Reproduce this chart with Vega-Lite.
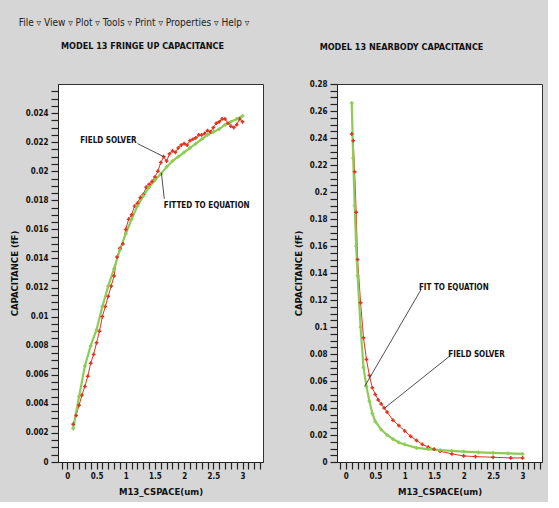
{
  "$schema": "https://vega.github.io/schema/vega-lite/v6.json",
  "background": "#d6d6d6",
  "padding": {"left": 8, "top": 17, "right": 5, "bottom": 6},
  "title": {
    "text": "File ▿       View ▿       Plot ▿       Tools ▿       Print ▿       Properties ▿       Help ▿",
    "anchor": "start",
    "fontSize": 10,
    "fontWeight": "normal",
    "font": "DejaVu Sans Condensed",
    "color": "#222",
    "offset": 14,
    "dx": 10
  },
  "datasets": {
    "fringe": [
      {"x": 0.1, "cap": 0.0026, "method": "Field solver"},
      {"x": 0.15, "cap": 0.0032, "method": "Field solver"},
      {"x": 0.2, "cap": 0.0039, "method": "Field solver"},
      {"x": 0.25, "cap": 0.0046, "method": "Field solver"},
      {"x": 0.3, "cap": 0.0052, "method": "Field solver"},
      {"x": 0.35, "cap": 0.0059, "method": "Field solver"},
      {"x": 0.4, "cap": 0.0068, "method": "Field solver"},
      {"x": 0.45, "cap": 0.0074, "method": "Field solver"},
      {"x": 0.5, "cap": 0.0082, "method": "Field solver"},
      {"x": 0.55, "cap": 0.009, "method": "Field solver"},
      {"x": 0.6, "cap": 0.01, "method": "Field solver"},
      {"x": 0.65, "cap": 0.0107, "method": "Field solver"},
      {"x": 0.7, "cap": 0.0114, "method": "Field solver"},
      {"x": 0.75, "cap": 0.0121, "method": "Field solver"},
      {"x": 0.8, "cap": 0.0128, "method": "Field solver"},
      {"x": 0.85, "cap": 0.0141, "method": "Field solver"},
      {"x": 0.9, "cap": 0.0147, "method": "Field solver"},
      {"x": 0.95, "cap": 0.015, "method": "Field solver"},
      {"x": 1.0, "cap": 0.016, "method": "Field solver"},
      {"x": 1.05, "cap": 0.0167, "method": "Field solver"},
      {"x": 1.1, "cap": 0.017, "method": "Field solver"},
      {"x": 1.15, "cap": 0.0176, "method": "Field solver"},
      {"x": 1.2, "cap": 0.0178, "method": "Field solver"},
      {"x": 1.25, "cap": 0.0182, "method": "Field solver"},
      {"x": 1.3, "cap": 0.0184, "method": "Field solver"},
      {"x": 1.35, "cap": 0.0189, "method": "Field solver"},
      {"x": 1.4, "cap": 0.0191, "method": "Field solver"},
      {"x": 1.45, "cap": 0.0193, "method": "Field solver"},
      {"x": 1.5, "cap": 0.0196, "method": "Field solver"},
      {"x": 1.55, "cap": 0.02, "method": "Field solver"},
      {"x": 1.6, "cap": 0.0206, "method": "Field solver"},
      {"x": 1.65, "cap": 0.021, "method": "Field solver"},
      {"x": 1.7, "cap": 0.0207, "method": "Field solver"},
      {"x": 1.75, "cap": 0.0212, "method": "Field solver"},
      {"x": 1.8, "cap": 0.0214, "method": "Field solver"},
      {"x": 1.85, "cap": 0.0213, "method": "Field solver"},
      {"x": 1.9, "cap": 0.0216, "method": "Field solver"},
      {"x": 1.95, "cap": 0.0218, "method": "Field solver"},
      {"x": 2.0, "cap": 0.0219, "method": "Field solver"},
      {"x": 2.05, "cap": 0.0218, "method": "Field solver"},
      {"x": 2.1, "cap": 0.0221, "method": "Field solver"},
      {"x": 2.15, "cap": 0.0222, "method": "Field solver"},
      {"x": 2.2, "cap": 0.0223, "method": "Field solver"},
      {"x": 2.25, "cap": 0.0225, "method": "Field solver"},
      {"x": 2.3, "cap": 0.0225, "method": "Field solver"},
      {"x": 2.35, "cap": 0.0226, "method": "Field solver"},
      {"x": 2.4, "cap": 0.0228, "method": "Field solver"},
      {"x": 2.45, "cap": 0.0227, "method": "Field solver"},
      {"x": 2.5, "cap": 0.023, "method": "Field solver"},
      {"x": 2.55, "cap": 0.0233, "method": "Field solver"},
      {"x": 2.6, "cap": 0.0234, "method": "Field solver"},
      {"x": 2.65, "cap": 0.0236, "method": "Field solver"},
      {"x": 2.7, "cap": 0.0236, "method": "Field solver"},
      {"x": 2.75, "cap": 0.0233, "method": "Field solver"},
      {"x": 2.8, "cap": 0.0231, "method": "Field solver"},
      {"x": 2.85, "cap": 0.023, "method": "Field solver"},
      {"x": 2.9, "cap": 0.0232, "method": "Field solver"},
      {"x": 2.95, "cap": 0.0236, "method": "Field solver"},
      {"x": 3.0, "cap": 0.0234, "method": "Field solver"},
      {"x": 0.1, "cap": 0.0023, "method": "Fitted equation"},
      {"x": 0.2, "cap": 0.0045, "method": "Fitted equation"},
      {"x": 0.3, "cap": 0.0066, "method": "Fitted equation"},
      {"x": 0.4, "cap": 0.008, "method": "Fitted equation"},
      {"x": 0.5, "cap": 0.0091, "method": "Fitted equation"},
      {"x": 0.6, "cap": 0.0107, "method": "Fitted equation"},
      {"x": 0.7, "cap": 0.0121, "method": "Fitted equation"},
      {"x": 0.8, "cap": 0.0133, "method": "Fitted equation"},
      {"x": 0.9, "cap": 0.0146, "method": "Fitted equation"},
      {"x": 1.0, "cap": 0.0157, "method": "Fitted equation"},
      {"x": 1.1, "cap": 0.0167, "method": "Fitted equation"},
      {"x": 1.2, "cap": 0.0176, "method": "Fitted equation"},
      {"x": 1.3, "cap": 0.0183, "method": "Fitted equation"},
      {"x": 1.4, "cap": 0.0189, "method": "Fitted equation"},
      {"x": 1.5, "cap": 0.0194, "method": "Fitted equation"},
      {"x": 1.6, "cap": 0.0198, "method": "Fitted equation"},
      {"x": 1.7, "cap": 0.0203, "method": "Fitted equation"},
      {"x": 1.8, "cap": 0.0207, "method": "Fitted equation"},
      {"x": 1.9, "cap": 0.021, "method": "Fitted equation"},
      {"x": 2.0, "cap": 0.0213, "method": "Fitted equation"},
      {"x": 2.1, "cap": 0.0216, "method": "Fitted equation"},
      {"x": 2.2, "cap": 0.0219, "method": "Fitted equation"},
      {"x": 2.3, "cap": 0.0222, "method": "Fitted equation"},
      {"x": 2.4, "cap": 0.0225, "method": "Fitted equation"},
      {"x": 2.5, "cap": 0.0227, "method": "Fitted equation"},
      {"x": 2.6, "cap": 0.0229, "method": "Fitted equation"},
      {"x": 2.7, "cap": 0.0232, "method": "Fitted equation"},
      {"x": 2.8, "cap": 0.0234, "method": "Fitted equation"},
      {"x": 2.9, "cap": 0.0236, "method": "Fitted equation"},
      {"x": 3.0, "cap": 0.0238, "method": "Fitted equation"}
    ],
    "nearbody": [
      {"x": 0.1, "cap": 0.243, "method": "Field solver"},
      {"x": 0.125, "cap": 0.238, "method": "Field solver"},
      {"x": 0.15, "cap": 0.215, "method": "Field solver"},
      {"x": 0.175, "cap": 0.185, "method": "Field solver"},
      {"x": 0.2, "cap": 0.15, "method": "Field solver"},
      {"x": 0.25, "cap": 0.118, "method": "Field solver"},
      {"x": 0.3, "cap": 0.092, "method": "Field solver"},
      {"x": 0.35, "cap": 0.076, "method": "Field solver"},
      {"x": 0.4, "cap": 0.064, "method": "Field solver"},
      {"x": 0.45, "cap": 0.055, "method": "Field solver"},
      {"x": 0.5, "cap": 0.05, "method": "Field solver"},
      {"x": 0.55, "cap": 0.046, "method": "Field solver"},
      {"x": 0.6, "cap": 0.043, "method": "Field solver"},
      {"x": 0.65, "cap": 0.04, "method": "Field solver"},
      {"x": 0.7, "cap": 0.037, "method": "Field solver"},
      {"x": 0.8, "cap": 0.031, "method": "Field solver"},
      {"x": 0.9, "cap": 0.027, "method": "Field solver"},
      {"x": 1.0, "cap": 0.023, "method": "Field solver"},
      {"x": 1.1, "cap": 0.019, "method": "Field solver"},
      {"x": 1.2, "cap": 0.016, "method": "Field solver"},
      {"x": 1.3, "cap": 0.013, "method": "Field solver"},
      {"x": 1.4, "cap": 0.011, "method": "Field solver"},
      {"x": 1.5, "cap": 0.0095, "method": "Field solver"},
      {"x": 1.6, "cap": 0.008, "method": "Field solver"},
      {"x": 1.8, "cap": 0.006, "method": "Field solver"},
      {"x": 2.0, "cap": 0.0045, "method": "Field solver"},
      {"x": 2.2, "cap": 0.004, "method": "Field solver"},
      {"x": 2.5, "cap": 0.0035, "method": "Field solver"},
      {"x": 2.8, "cap": 0.003, "method": "Field solver"},
      {"x": 3.0, "cap": 0.003, "method": "Field solver"},
      {"x": 0.1, "cap": 0.266, "method": "Fitted equation"},
      {"x": 0.125, "cap": 0.225, "method": "Fitted equation"},
      {"x": 0.15, "cap": 0.19, "method": "Fitted equation"},
      {"x": 0.175, "cap": 0.16, "method": "Fitted equation"},
      {"x": 0.2, "cap": 0.138, "method": "Fitted equation"},
      {"x": 0.25, "cap": 0.1, "method": "Fitted equation"},
      {"x": 0.3, "cap": 0.07, "method": "Fitted equation"},
      {"x": 0.35, "cap": 0.056, "method": "Fitted equation"},
      {"x": 0.4, "cap": 0.045, "method": "Fitted equation"},
      {"x": 0.45, "cap": 0.036, "method": "Fitted equation"},
      {"x": 0.5, "cap": 0.03, "method": "Fitted equation"},
      {"x": 0.6, "cap": 0.024, "method": "Fitted equation"},
      {"x": 0.7, "cap": 0.02, "method": "Fitted equation"},
      {"x": 0.8, "cap": 0.017, "method": "Fitted equation"},
      {"x": 0.9, "cap": 0.0145, "method": "Fitted equation"},
      {"x": 1.0, "cap": 0.013, "method": "Fitted equation"},
      {"x": 1.2, "cap": 0.0105, "method": "Fitted equation"},
      {"x": 1.4, "cap": 0.0095, "method": "Fitted equation"},
      {"x": 1.6, "cap": 0.0088, "method": "Fitted equation"},
      {"x": 1.8, "cap": 0.0082, "method": "Fitted equation"},
      {"x": 2.0, "cap": 0.0077, "method": "Fitted equation"},
      {"x": 2.25, "cap": 0.0072, "method": "Fitted equation"},
      {"x": 2.5, "cap": 0.0068, "method": "Fitted equation"},
      {"x": 2.75, "cap": 0.0064, "method": "Fitted equation"},
      {"x": 3.0, "cap": 0.006, "method": "Fitted equation"}
    ],
    "fringeNotes": [
      {"label": "FIELD SOLVER", "tx": 0.22, "ty": 0.0221, "x1": 1.2, "y1": 0.0219, "x2": 1.65, "y2": 0.021},
      {"label": "FITTED TO EQUATION", "tx": 1.65, "ty": 0.0176, "x1": 1.61, "y1": 0.0199, "x2": 1.66, "y2": 0.0181}
    ],
    "nearNotes": [
      {"label": "FIT TO EQUATION", "tx": 1.24, "ty": 0.129, "x1": 1.28, "y1": 0.128, "x2": 0.32, "y2": 0.056},
      {"label": "FIELD SOLVER", "tx": 1.74, "ty": 0.079, "x1": 1.75, "y1": 0.078, "x2": 0.66, "y2": 0.04}
    ]
  },
  "spacing": 28,
  "hconcat": [
    {
      "title": {"text": "MODEL 13 FRINGE UP CAPACITANCE", "dx": -18, "offset": 33},
      "width": 205,
      "height": 378,
      "layer": [
        {
          "data": {"name": "fringe"},
          "mark": {"type": "line", "point": {"shape": "cross", "size": 14, "filled": true}},
          "encoding": {
            "x": {"field": "x", "type": "quantitative", "scale": {"domain": [-0.16, 3.35], "nice": false, "zero": false},
                  "axis": {"values": [-0.1, 0, 0.1, 0.2, 0.3, 0.4, 0.5, 0.6, 0.7, 0.8, 0.9, 1, 1.1, 1.2, 1.3, 1.4, 1.5, 1.6, 1.7, 1.8, 1.9, 2, 2.1, 2.2, 2.3, 2.4, 2.5, 2.6, 2.7, 2.8, 2.9, 3, 3.1, 3.2, 3.3],
                           "tickCount": 200,
                           "format": "~g",
                           "labelExpr": "abs(datum.value*2 - round(datum.value*2)) < 0.001 && datum.value >= 0 ? datum.label : ''",
                           "tickSize": 7,
                           "encode": {"ticks": {"update": {"y2": {"signal": "abs(datum.value*2 - round(datum.value*2)) < 0.001 ? 7 : 4"}}}},
                           "title": "M13_CSPACE(um)"}},
            "y": {"field": "cap", "type": "quantitative", "scale": {"domain": [0, 0.026], "nice": false},
                  "axis": {"values": [0, 0.0005, 0.001, 0.0015, 0.002, 0.0025, 0.003, 0.0035, 0.004, 0.0045, 0.005, 0.0055, 0.006, 0.0065, 0.007, 0.0075, 0.008, 0.0085, 0.009, 0.0095, 0.01, 0.0105, 0.011, 0.0115, 0.012, 0.0125, 0.013, 0.0135, 0.014, 0.0145, 0.015, 0.0155, 0.016, 0.0165, 0.017, 0.0175, 0.018, 0.0185, 0.019, 0.0195, 0.02, 0.0205, 0.021, 0.0215, 0.022, 0.0225, 0.023, 0.0235, 0.024, 0.0245, 0.025, 0.0255],
                           "tickCount": 200,
                           "format": "~g",
                           "labelExpr": "abs(datum.value*500 - round(datum.value*500)) < 0.001 ? datum.label : ''",
                           "tickSize": 7,
                           "encode": {"ticks": {"update": {"x2": {"signal": "abs(datum.value*500 - round(datum.value*500)) < 0.001 ? -7 : -4"}}}},
                           "title": "CAPACITANCE (fF)"}},
            "color": {"field": "method", "type": "nominal", "legend": null,
                      "scale": {"domain": ["Field solver", "Fitted equation"], "range": ["#e0321e", "#8ccc55"]}},
            "strokeWidth": {"field": "method", "type": "nominal", "legend": null,
                      "scale": {"domain": ["Field solver", "Fitted equation"], "range": [1, 2.2]}}
          }
        },
        {
          "data": {"name": "fringeNotes"},
          "mark": {"type": "rule", "color": "#222", "strokeWidth": 0.8},
          "encoding": {
            "x": {"field": "x1", "type": "quantitative"},
            "y": {"field": "y1", "type": "quantitative"},
            "x2": {"field": "x2"},
            "y2": {"field": "y2"}
          }
        },
        {
          "data": {"name": "fringeNotes"},
          "mark": {"type": "text", "align": "left", "baseline": "middle", "fontWeight": "bold", "fontSize": 8, "font": "DejaVu Sans Condensed", "color": "#111"},
          "encoding": {
            "x": {"field": "tx", "type": "quantitative"},
            "y": {"field": "ty", "type": "quantitative"},
            "text": {"field": "label"}
          }
        }
      ]
    },
    {
      "title": {"text": "MODEL 13 NEARBODY CAPACITANCE", "dx": -38, "offset": 28},
      "width": 205,
      "height": 378,
      "layer": [
        {
          "data": {"name": "nearbody"},
          "mark": {"type": "line", "point": {"shape": "cross", "size": 14, "filled": true}},
          "encoding": {
            "x": {"field": "x", "type": "quantitative", "scale": {"domain": [-0.15, 3.33], "nice": false, "zero": false},
                  "axis": {"values": [-0.1, 0, 0.1, 0.2, 0.3, 0.4, 0.5, 0.6, 0.7, 0.8, 0.9, 1, 1.1, 1.2, 1.3, 1.4, 1.5, 1.6, 1.7, 1.8, 1.9, 2, 2.1, 2.2, 2.3, 2.4, 2.5, 2.6, 2.7, 2.8, 2.9, 3, 3.1, 3.2, 3.3],
                           "tickCount": 200,
                           "format": "~g",
                           "labelExpr": "abs(datum.value*2 - round(datum.value*2)) < 0.001 && datum.value >= 0 ? datum.label : ''",
                           "tickSize": 7,
                           "encode": {"ticks": {"update": {"y2": {"signal": "abs(datum.value*2 - round(datum.value*2)) < 0.001 ? 7 : 4"}}}},
                           "title": "M13_CSPACE(um)"}},
            "y": {"field": "cap", "type": "quantitative", "scale": {"domain": [0, 0.28], "nice": false},
                  "axis": {"values": [0, 0.005, 0.01, 0.015, 0.02, 0.025, 0.03, 0.035, 0.04, 0.045, 0.05, 0.055, 0.06, 0.065, 0.07, 0.075, 0.08, 0.085, 0.09, 0.095, 0.1, 0.105, 0.11, 0.115, 0.12, 0.125, 0.13, 0.135, 0.14, 0.145, 0.15, 0.155, 0.16, 0.165, 0.17, 0.175, 0.18, 0.185, 0.19, 0.195, 0.2, 0.205, 0.21, 0.215, 0.22, 0.225, 0.23, 0.235, 0.24, 0.245, 0.25, 0.255, 0.26, 0.265, 0.27, 0.275, 0.28],
                           "tickCount": 200,
                           "format": "~g",
                           "labelExpr": "abs(datum.value*50 - round(datum.value*50)) < 0.001 ? datum.label : ''",
                           "tickSize": 7,
                           "encode": {"ticks": {"update": {"x2": {"signal": "abs(datum.value*50 - round(datum.value*50)) < 0.001 ? -7 : -4"}}}},
                           "title": "CAPACITANCE (fF)"}},
            "color": {"field": "method", "type": "nominal", "legend": null,
                      "scale": {"domain": ["Field solver", "Fitted equation"], "range": ["#e0321e", "#8ccc55"]}},
            "strokeWidth": {"field": "method", "type": "nominal", "legend": null,
                      "scale": {"domain": ["Field solver", "Fitted equation"], "range": [1, 2.2]}}
          }
        },
        {
          "data": {"name": "nearNotes"},
          "mark": {"type": "rule", "color": "#222", "strokeWidth": 0.8},
          "encoding": {
            "x": {"field": "x1", "type": "quantitative"},
            "y": {"field": "y1", "type": "quantitative"},
            "x2": {"field": "x2"},
            "y2": {"field": "y2"}
          }
        },
        {
          "data": {"name": "nearNotes"},
          "mark": {"type": "text", "align": "left", "baseline": "middle", "fontWeight": "bold", "fontSize": 8, "font": "DejaVu Sans Condensed", "color": "#111"},
          "encoding": {
            "x": {"field": "tx", "type": "quantitative"},
            "y": {"field": "ty", "type": "quantitative"},
            "text": {"field": "label"}
          }
        }
      ]
    }
  ],
  "config": {
    "font": "DejaVu Sans Condensed",
    "view": {"fill": "white", "stroke": "#333", "strokeWidth": 1},
    "axis": {
      "grid": false,
      "labelOverlap": false,
      "labelFlush": false,
      "labelBound": false,
      "labelFont": "DejaVu Sans Condensed",
      "labelFontWeight": "bold",
      "labelFontSize": 8,
      "labelColor": "#111",
      "labelPadding": 3,
      "titleFont": "DejaVu Sans Condensed",
      "titleFontWeight": "bold",
      "titleFontSize": 9.5,
      "titleColor": "#111",
      "titlePadding": 6,
      "domainColor": "#222",
      "tickColor": "#222",
      "tickWidth": 1.2
    },
    "title": {
      "font": "DejaVu Sans Condensed",
      "fontSize": 9,
      "fontWeight": "bold",
      "color": "#111",
      "offset": 25,
      "anchor": "middle"
    }
  }
}
